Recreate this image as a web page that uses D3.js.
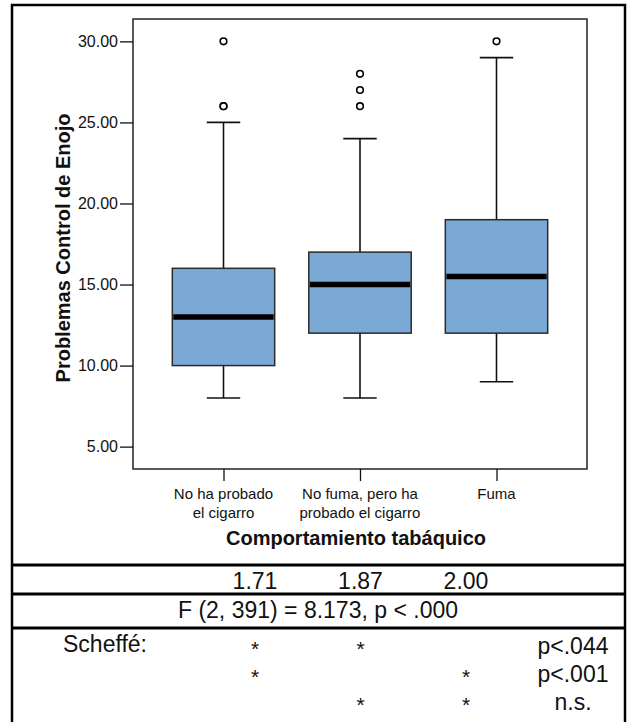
<!DOCTYPE html>
<html>
<head>
<meta charset="utf-8">
<script src="https://cdn.jsdelivr.net/npm/d3@7"></script>
<style>
  body { margin: 0; background: #fff; }
  svg text { font-family: "Liberation Sans", Arial, sans-serif; fill: #111; }
</style>
</head>
<body>
<div id="chart"></div>
<script>
// data
const categories = ['No ha probado el cigarro', 'No fuma, pero ha probado el cigarro', 'Fuma'];
const categoryLines = [['No ha probado', 'el cigarro'], ['No fuma, pero ha', 'probado el cigarro'], ['Fuma']];
const whiskerLow = [8, 8, 9];
const q1 = [10, 12, 12];
const medians = [13, 15, 15.5];
const q3 = [16, 17, 19];
const whiskerHigh = [25, 24, 29];
const outliers = [[26, 26, 30], [26, 27, 28], [30]];
const yTicks = [5, 10, 15, 20, 25, 30];

const means = ['1.71', '1.87', '2.00'];
const anova = 'F (2, 391) = 8.173, p < .000';
const scheffePairs = [[0, 1], [0, 2], [1, 2]];
const scheffeLabels = ['p<.044', 'p<.001', 'n.s.'];

const width = 627;
const height = 722;
const plot = { left: 133, right: 587, top: 19, bottom: 469 };

const svg = d3.select('#chart')
  .append('svg')
    .attr('width', width)
    .attr('height', height);

// outer frame
svg.append('rect')
  .attr('x', 12).attr('y', 5)
  .attr('width', 613).attr('height', 730)
  .attr('fill', 'none')
  .attr('stroke', '#000')
  .attr('stroke-width', 2.5);

const y = d3.scaleLinear()
  .domain([3.62, 31.38])
  .range([plot.bottom, plot.top]);

const x = d3.scalePoint()
  .domain(categories)
  .range([plot.left, plot.right])
  .padding(0.663);

const boxW = x.step() * 0.75;
const capW = x.step() * 0.245;

// plot frame
svg.append('rect')
  .attr('x', plot.left).attr('y', plot.top)
  .attr('width', plot.right - plot.left)
  .attr('height', plot.bottom - plot.top)
  .attr('fill', '#fff')
  .attr('stroke', '#222')
  .attr('stroke-width', 1.5);

// y axis
const yAxis = svg.append('g')
  .attr('transform', 'translate(' + plot.left + ',0)')
  .call(d3.axisLeft(y).tickValues(yTicks).tickFormat(d3.format('.2f')).tickSize(13).tickPadding(2));
yAxis.select('.domain').remove();
yAxis.selectAll('line').attr('stroke', '#111').attr('stroke-width', 1.3);
yAxis.selectAll('text')
  .attr('font-size', 16)
  .attr('font-family', '"Liberation Sans", Arial, sans-serif')
  .attr('fill', '#222');

// x axis ticks and labels
const xAxis = svg.append('g')
  .attr('transform', 'translate(0,' + plot.bottom + ')')
  .call(d3.axisBottom(x).tickSize(12).tickFormat(''));
xAxis.select('.domain').remove();
xAxis.selectAll('line').attr('stroke', '#111').attr('stroke-width', 1.3);

categories.forEach((c, i) => {
  const t = svg.append('text')
    .attr('x', x(c))
    .attr('y', 499)
    .attr('text-anchor', 'middle')
    .attr('font-size', 15);
  categoryLines[i].forEach((line, j) => {
    t.append('tspan')
      .attr('x', x(c))
      .attr('dy', j === 0 ? 0 : 19)
      .text(line);
  });
});

svg.append('text')
  .attr('x', (plot.left + plot.right) / 2 - 4)
  .attr('y', 545)
  .attr('text-anchor', 'middle')
  .attr('font-size', 20)
  .attr('font-weight', 'bold')
  .text('Comportamiento tabáquico');

svg.append('text')
  .attr('transform', 'translate(70,' + ((plot.top + plot.bottom) / 2 + 4) + ') rotate(-90)')
  .attr('text-anchor', 'middle')
  .attr('font-size', 20)
  .attr('font-weight', 'bold')
  .text('Problemas Control de Enojo');

// boxes
const boxes = svg.selectAll('g.box')
  .data(categories)
  .enter()
  .append('g')
    .attr('class', 'box');

boxes.append('line')
  .attr('x1', (d) => x(d)).attr('x2', (d) => x(d))
  .attr('y1', (d, i) => y(whiskerLow[i]))
  .attr('y2', (d, i) => y(whiskerHigh[i]))
  .attr('stroke', '#111')
  .attr('stroke-width', 1.6);

boxes.selectAll('line.cap')
  .data((d, i) => [whiskerLow[i], whiskerHigh[i]].map((v) => ({ c: d, v: v })))
  .enter()
  .append('line')
    .attr('class', 'cap')
    .attr('x1', (d) => x(d.c) - capW / 2)
    .attr('x2', (d) => x(d.c) + capW / 2)
    .attr('y1', (d) => y(d.v))
    .attr('y2', (d) => y(d.v))
    .attr('stroke', '#111')
    .attr('stroke-width', 1.6);

boxes.append('rect')
  .attr('x', (d) => x(d) - boxW / 2)
  .attr('y', (d, i) => y(q3[i]))
  .attr('width', boxW)
  .attr('height', (d, i) => y(q1[i]) - y(q3[i]))
  .attr('fill', '#7ba9d6')
  .attr('stroke', '#2a2a2a')
  .attr('stroke-width', 1.5);

boxes.append('line')
  .attr('x1', (d) => x(d) - boxW / 2 + 1)
  .attr('x2', (d) => x(d) + boxW / 2 - 1)
  .attr('y1', (d, i) => y(medians[i]))
  .attr('y2', (d, i) => y(medians[i]))
  .attr('stroke', '#000')
  .attr('stroke-width', 5.5);

boxes.selectAll('circle')
  .data((d, i) => outliers[i].map((v) => ({ c: d, v: v })))
  .enter()
  .append('circle')
    .attr('cx', (d) => x(d.c))
    .attr('cy', (d) => y(d.v))
    .attr('r', 3.3)
    .attr('fill', '#fff')
    .attr('stroke', '#000')
    .attr('stroke-width', 1.6);

// table below the chart
const tableLines = [565, 594, 628];
svg.selectAll('line.row')
  .data(tableLines)
  .enter()
  .append('line')
    .attr('class', 'row')
    .attr('x1', 12).attr('x2', 625)
    .attr('y1', (d) => d).attr('y2', (d) => d)
    .attr('stroke', '#000')
    .attr('stroke-width', 3);

const col = d3.scalePoint()
  .domain(d3.range(categories.length))
  .range([255, 466]);

svg.selectAll('text.mean')
  .data(means)
  .enter()
  .append('text')
    .attr('class', 'mean')
    .attr('x', (d, i) => col(i))
    .attr('y', 589)
    .attr('text-anchor', 'middle')
    .attr('font-size', 23)
    .text((d) => d);

svg.append('text')
  .attr('x', 318)
  .attr('y', 618)
  .attr('text-anchor', 'middle')
  .attr('font-size', 23)
  .text(anova);

svg.append('text')
  .attr('x', 63)
  .attr('y', 652)
  .attr('font-size', 23)
  .text('Scheffé:');

const rowY = d3.scalePoint()
  .domain(d3.range(scheffePairs.length))
  .range([654, 710]);

scheffePairs.forEach((pair, r) => {
  pair.forEach((ci) => {
    svg.append('text')
      .attr('x', col(ci))
      .attr('y', rowY(r) + 2)
      .attr('text-anchor', 'middle')
      .attr('font-size', 21)
      .text('*');
  });
  svg.append('text')
    .attr('x', 573)
    .attr('y', rowY(r))
    .attr('text-anchor', 'middle')
    .attr('font-size', 23)
    .text(scheffeLabels[r]);
});
</script>
</body>
</html>
